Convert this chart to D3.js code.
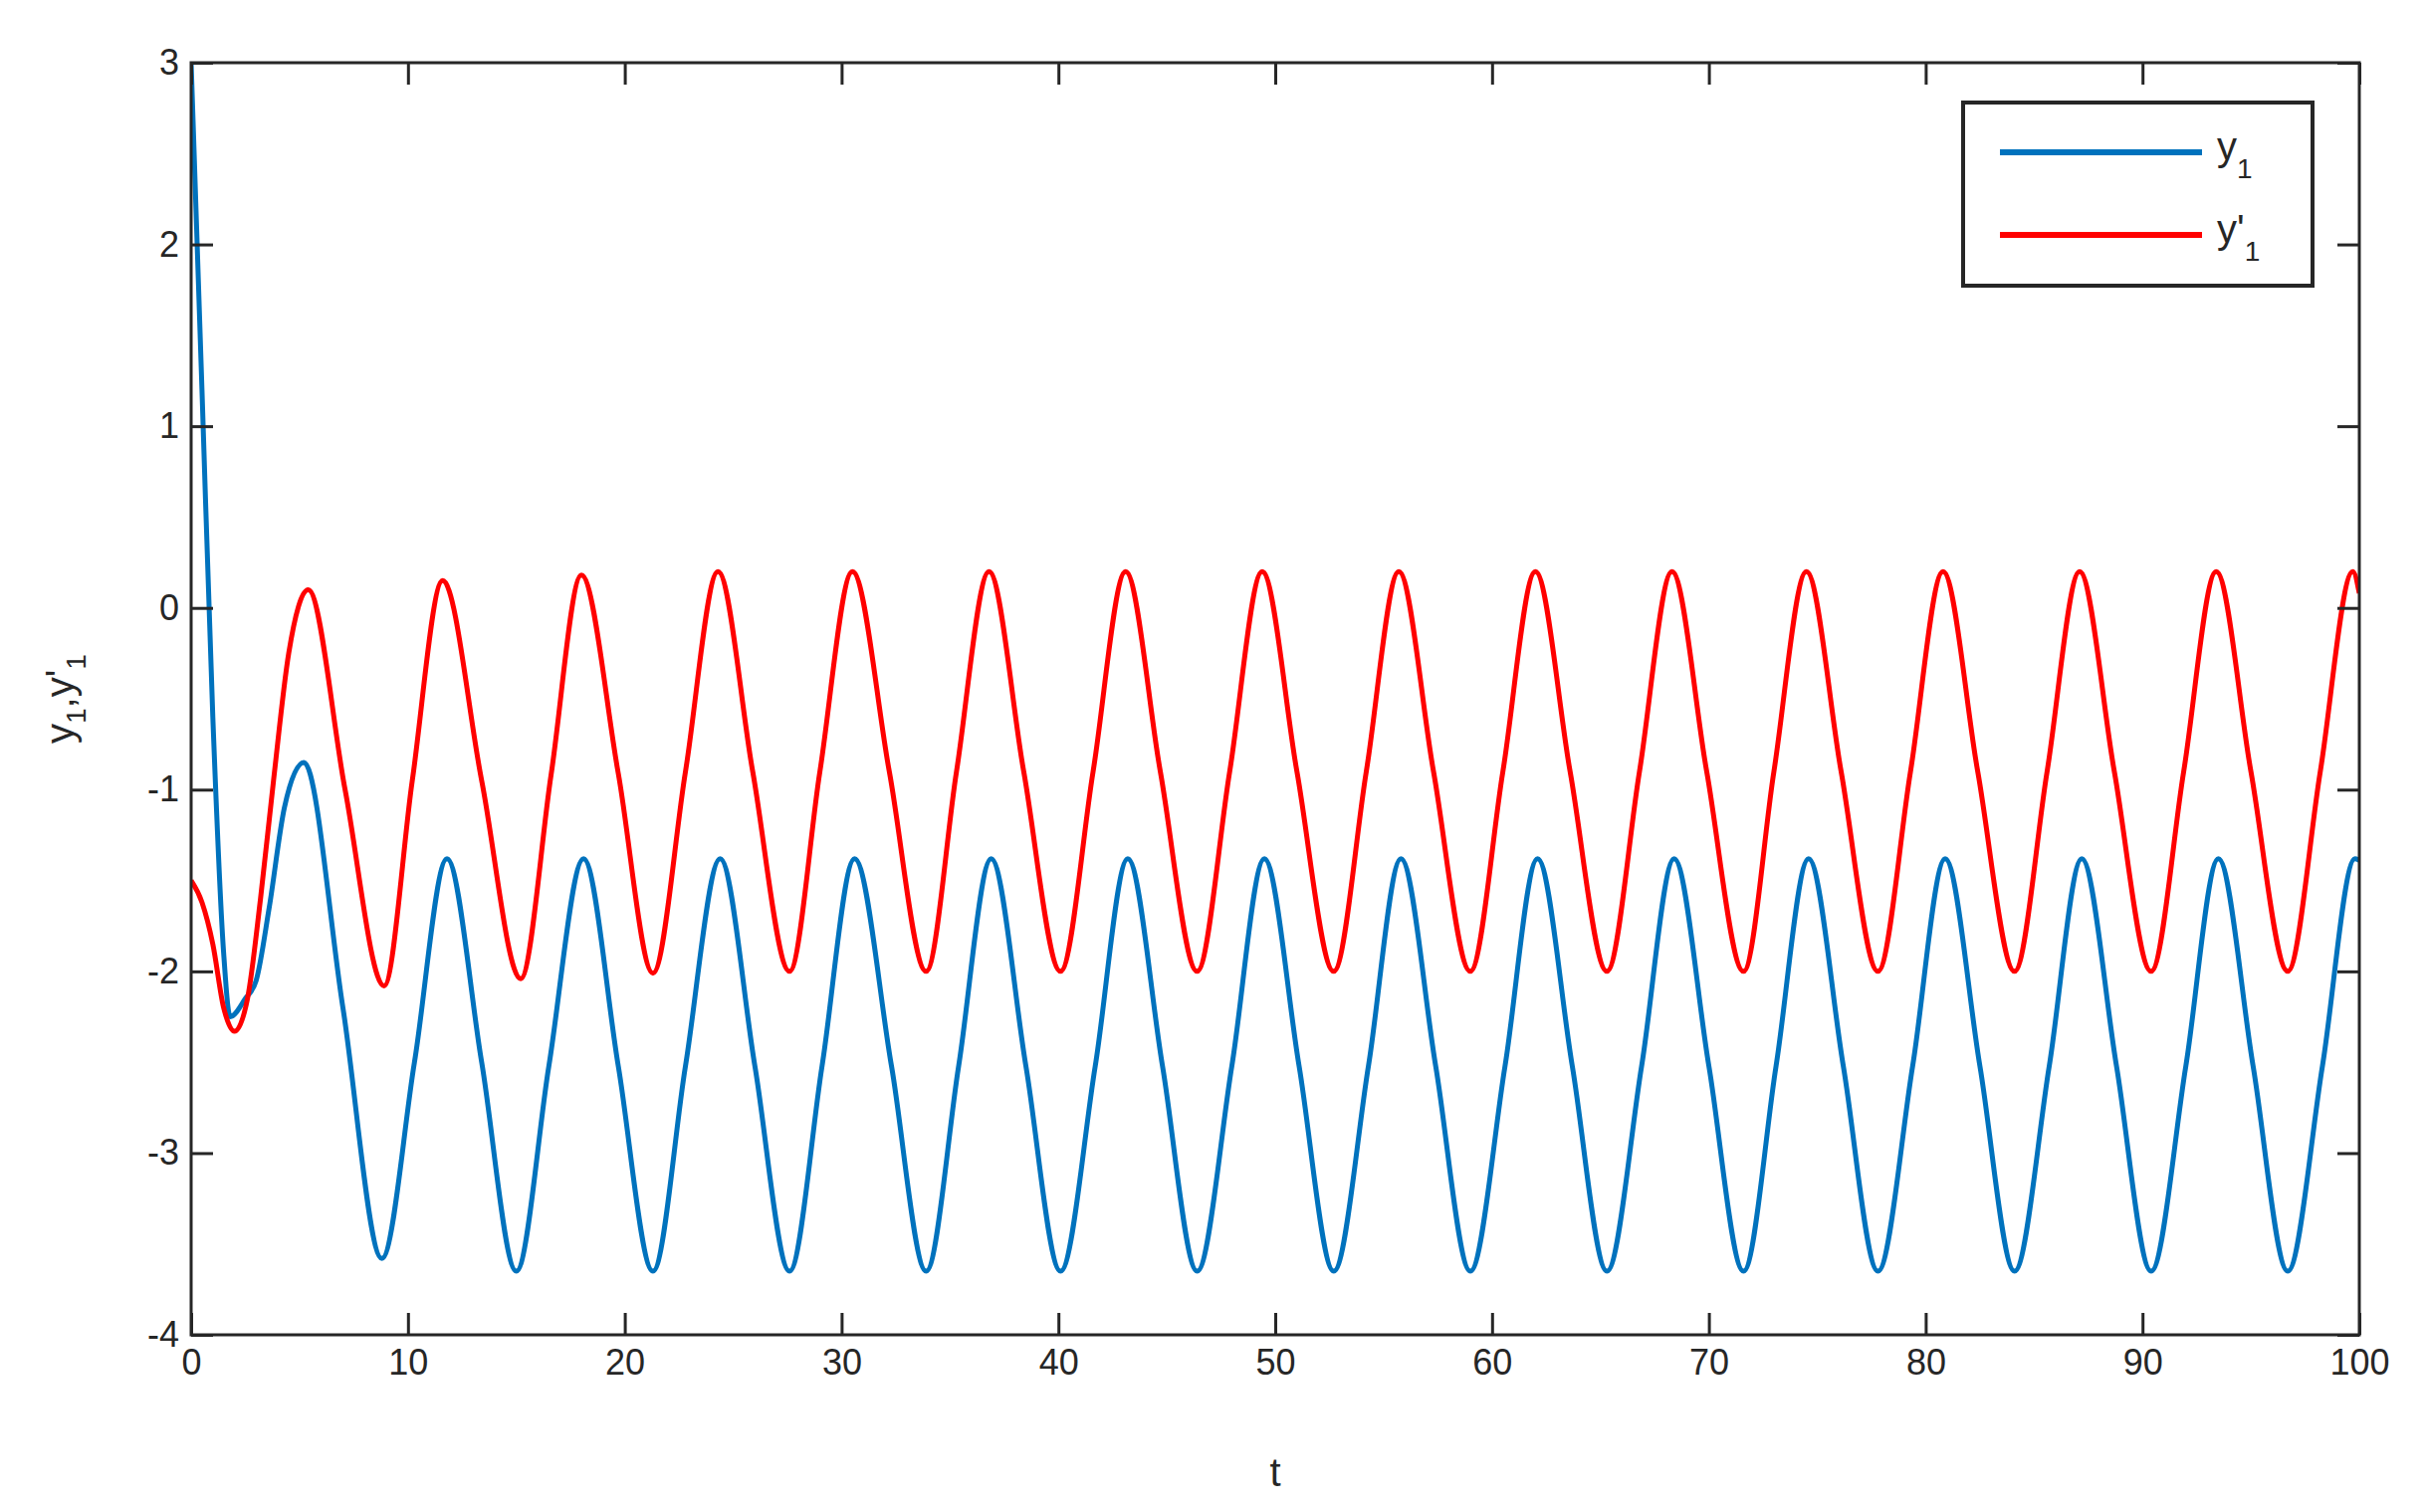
<!DOCTYPE html>
<html><head><meta charset="utf-8">
<script src="https://cdn.jsdelivr.net/npm/d3@7"></script>
<style>body{margin:0;background:#fff}svg{display:block}text{font-family:"Liberation Sans",Arial,sans-serif;fill:#262626}</style>
</head><body>
<script>
const xTicks=[0,10,20,30,40,50,60,70,80,90,100];
const yTicks=[-4,-3,-2,-1,0,1,2,3];
const y1Series=[[0,3],[0.5,1.2],[1,-0.6],[1.5,-1.9],[1.8,-2.25],[2.5,-2.15],[3,-2.05],[3.6,-1.65],[4.3,-1.1],[5.2,-0.85],[7.0,-2.2],[8.8,-3.58],[10.3,-2.5],[11.8,-1.38],[13.4,-2.5],[15.0,-3.65],[16.5,-2.52],[18.1,-1.38],[19.7,-2.52],[21.3,-3.65],[22.8,-2.52],[24.4,-1.38],[26.0,-2.52],[27.6,-3.65],[29.1,-2.52],[30.6,-1.38],[32.3,-2.52],[33.9,-3.65],[35.4,-2.52],[36.9,-1.38],[38.5,-2.52],[40.1,-3.65],[41.7,-2.52],[43.2,-1.38],[44.8,-2.52],[46.4,-3.65],[48.0,-2.52],[49.5,-1.38],[51.1,-2.52],[52.7,-3.65],[54.3,-2.52],[55.8,-1.38],[57.4,-2.52],[59.0,-3.65],[60.6,-2.52],[62.1,-1.38],[63.7,-2.52],[65.3,-3.65],[66.9,-2.52],[68.4,-1.38],[70.0,-2.52],[71.6,-3.65],[73.1,-2.52],[74.6,-1.38],[76.2,-2.52],[77.8,-3.65],[79.4,-2.52],[80.9,-1.38],[82.5,-2.52],[84.1,-3.65],[85.7,-2.52],[87.2,-1.38],[88.8,-2.52],[90.4,-3.65],[92.0,-2.52],[93.5,-1.38],[95.1,-2.52],[96.7,-3.65],[98.3,-2.52],[99.8,-1.38],[100,-1.39]];
const y1pSeries=[[0,-1.5],[0.5,-1.62],[1,-1.85],[1.5,-2.2],[2.0,-2.33],[2.6,-2.15],[3.2,-1.6],[3.8,-0.95],[4.5,-0.25],[5.4,0.1],[7.1,-1.0],[8.9,-2.08],[10.2,-0.95],[11.6,0.15],[13.4,-0.95],[15.2,-2.04],[16.6,-0.92],[18.0,0.18],[19.7,-0.91],[21.3,-2.01],[22.8,-0.9],[24.3,0.2],[25.9,-0.9],[27.6,-2.0],[29.0,-0.9],[30.5,0.2],[32.2,-0.9],[33.9,-2.0],[35.3,-0.9],[36.8,0.2],[38.4,-0.9],[40.1,-2.0],[41.6,-0.9],[43.1,0.2],[44.7,-0.9],[46.4,-2.0],[47.9,-0.9],[49.4,0.2],[51.0,-0.9],[52.7,-2.0],[54.2,-0.9],[55.7,0.2],[57.3,-0.9],[59.0,-2.0],[60.5,-0.9],[62.0,0.2],[63.6,-0.9],[65.3,-2.0],[66.8,-0.9],[68.3,0.2],[69.9,-0.9],[71.6,-2.0],[73.0,-0.9],[74.5,0.2],[76.1,-0.9],[77.8,-2.0],[79.3,-0.9],[80.8,0.2],[82.4,-0.9],[84.1,-2.0],[85.6,-0.9],[87.1,0.2],[88.7,-0.9],[90.4,-2.0],[91.9,-0.9],[93.4,0.2],[95.0,-0.9],[96.7,-2.0],[98.2,-0.9],[99.7,0.2],[100,0.08]];

const W=2440,H=1519,L=192,R=2370,T=63,B=1341;
const svg=d3.select("body").append("svg").attr("width",W).attr("height",H);
const x=d3.scaleLinear().domain([0,100]).range([L,R]);
const y=d3.scaleLinear().domain([-4,3]).range([B,T]);
const clip=svg.append("clipPath").attr("id","c").append("rect").attr("x",L).attr("y",T).attr("width",R-L).attr("height",B-T);
const line=d3.line().x(d=>x(d[0])).y(d=>y(d[1])).curve(d3.curveMonotoneX);
const g=svg.append("g").attr("clip-path","url(#c)");
g.append("path").datum(y1Series).attr("d",line).attr("fill","none").attr("stroke","#0072BD").attr("stroke-width",5);
g.append("path").datum(y1pSeries).attr("d",line).attr("fill","none").attr("stroke","#FF0000").attr("stroke-width",5);
const tl=22, ax="#262626";
function style(sel){sel.select(".domain").remove();sel.selectAll("line").attr("stroke",ax).attr("stroke-width",3);sel.selectAll("text").attr("font-size",36).attr("fill",ax);}
svg.append("g").attr("transform",`translate(0,${B})`).call(d3.axisBottom(x).tickValues(xTicks).tickSize(-tl).tickPadding(14)).call(style);
svg.append("g").attr("transform",`translate(0,${T})`).call(d3.axisTop(x).tickValues(xTicks).tickSize(-tl).tickFormat("")).call(style);
svg.append("g").attr("transform",`translate(${L},0)`).call(d3.axisLeft(y).tickValues(yTicks).tickSize(-tl).tickPadding(12).tickFormat(d=>d<0?"-"+Math.abs(d):d)).call(style);
svg.append("g").attr("transform",`translate(${R},0)`).call(d3.axisRight(y).tickValues(yTicks).tickSize(-tl).tickFormat("")).call(style);
svg.append("rect").attr("x",L).attr("y",T).attr("width",R-L).attr("height",B-T).attr("fill","none").attr("stroke",ax).attr("stroke-width",3);
svg.append("text").attr("x",(L+R)/2).attr("y",1493).attr("text-anchor","middle").attr("font-size",40).text("t");
const yl=svg.append("text").attr("transform",`translate(74,${(T+B)/2}) rotate(-90)`).attr("text-anchor","middle").attr("font-size",40);
yl.append("tspan").text("y");yl.append("tspan").attr("font-size",28).attr("dy",12).text("1");
yl.append("tspan").attr("dy",-12).text(",y'");yl.append("tspan").attr("font-size",28).attr("dy",12).text("1");
// legend
svg.append("rect").attr("x",1972).attr("y",103).attr("width",351).attr("height",184).attr("fill","#fff").attr("stroke",ax).attr("stroke-width",4);
[["#0072BD","y","",153],["#FF0000","y'","",236]].forEach(([c,t,_,yy])=>{
 svg.append("line").attr("x1",2009).attr("x2",2212).attr("y1",yy).attr("y2",yy).attr("stroke",c).attr("stroke-width",6);
 const tx=svg.append("text").attr("x",2227).attr("y",yy+8).attr("font-size",40).attr("fill","#000");
 tx.append("tspan").text(t);tx.append("tspan").attr("font-size",28).attr("dy",18).text("1");
});
</script></body></html>
